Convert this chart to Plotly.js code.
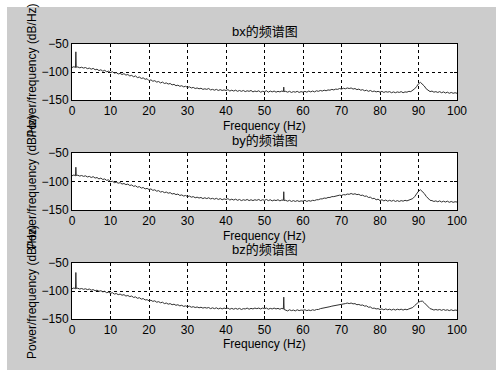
<!DOCTYPE html>
<html>
<head>
<meta charset="utf-8">
<script src="https://cdn.plot.ly/plotly-3.0.1.min.js"></script>
<style>html,body{margin:0;padding:0;background:#fff;}#chart{width:496px;height:370px;}</style>
</head>
<body>
<div id="chart"></div>
<script>
// Frequency bins (Hz)
const freq = [0,0.5,0.9,1,1.1,
  1.5,2,2.5,3,3.5,4,4.5,
  5,5.5,6,6.5,7,7.5,8,8.5,9,9.5,
  10,10.5,11,11.5,12,12.5,13,13.5,14,14.5,
  15,15.5,16,16.5,17,17.5,18,18.5,19,19.5,
  20,20.5,21,21.5,22,22.5,23,23.5,24,24.5,
  25,25.5,26,26.5,27,27.5,28,28.5,29,29.5,
  30,30.5,31,31.5,32,32.5,33,33.5,34,34.5,
  35,35.5,36,36.5,37,37.5,38,38.5,39,39.5,
  40,40.5,41,41.5,42,42.5,43,43.5,44,44.5,
  45,45.5,46,46.5,47,47.5,48,48.5,49,49.5,
  50,50.5,51,51.5,52,52.5,53,53.5,54,54.5,
  54.9,55,55.1,
  55.5,56,56.5,57,57.5,58,58.5,59,59.5,
  60,60.5,61,61.5,62,62.5,63,63.5,64,64.5,
  65,65.5,66,66.5,67,67.5,68,68.5,69,69.5,
  70,70.5,71,71.5,72,72.5,73,73.5,74,74.5,
  75,75.5,76,76.5,77,77.5,78,78.5,79,79.5,
  80,80.5,81,81.5,82,82.5,83,83.5,84,84.5,
  85,85.5,86,86.5,87,87.5,88,88.5,89,89.5,
  90,90.5,91,91.5,92,92.5,93,93.5,94,94.5,
  95,95.5,96,96.5,97,97.5,98,98.5,99,99.5,
  100];

// Power spectral density (dB/Hz)
const bx = [-92,-90.5,-92,-64,-91.5,
  -91,-92.5,-91.5,-93,-92,-94,-93,
  -95,-93.5,-96,-95,-97.5,-96,-98.5,-97,-99.5,-98.5,
  -101,-99.5,-102,-101,-103.5,-102.5,-104.5,-103,-105.5,-104.5,
  -107,-106,-108.5,-107,-110,-109,-111.5,-110.5,-113,-112,
  -115.5,-114,-116.5,-115.5,-118,-117,-119.5,-118,-120.5,-119.5,
  -121.5,-120.5,-123,-122,-124.5,-123.5,-125.5,-124.5,-126.5,-125.5,
  -127.5,-126.5,-128.5,-127.5,-129.5,-128.5,-130,-129,-131,-130,
  -131,-129.5,-132,-131,-132.5,-131,-133,-131.5,-133,-132,
  -133,-131.5,-134,-132.5,-134,-132.5,-134.5,-133,-134.5,-133,
  -135,-133.5,-134.5,-133,-135.5,-134,-135,-133.5,-136,-134.5,
  -135,-133.5,-136,-134,-135.5,-134,-136,-134.5,-135.5,-134,
  -135,-127,-135,
  -134.5,-136,-134.5,-136.5,-135,-136,-134.5,-136.5,-135,
  -136,-134.5,-136,-134,-135.5,-134,-135.5,-133.5,-134.5,-133,
  -134,-132.5,-133.5,-132,-132.5,-131,-132,-130.5,-131,-129.5,
  -130.5,-129,-130,-128.5,-129.5,-128.5,-130.5,-129.5,-131.5,-130.5,
  -132.5,-131.5,-133.5,-132.5,-134.5,-133,-135,-134,-135.5,-134.5,
  -136,-134.5,-136.5,-135,-136,-135,-137,-135.5,-137,-135.5,
  -136.5,-135,-137,-135.5,-136,-134.5,-135,-133,-130,-126,
  -121,-118.5,-121.5,-125,-130,-133,-135,-134,-136,-135,
  -136.5,-135,-137,-135.5,-137.5,-136,-138,-136.5,-138,-137,
  -138];

const by = [-90,-88.5,-90,-75,-89.5,
  -89,-90.5,-89.5,-91,-90,-92,-91,
  -93,-91.5,-94,-93,-95.5,-94,-96.5,-95.5,-98,-97,
  -100.5,-99.5,-102,-101,-103,-102,-104.5,-103.5,-105.5,-104.5,
  -107,-106,-108.5,-107.5,-110,-109,-111.5,-110.5,-113,-112,
  -114,-113,-115.5,-114.5,-117,-116,-118.5,-117.5,-119.5,-118.5,
  -120.5,-119.5,-122,-121,-123,-122,-124.5,-123.5,-125.5,-124.5,
  -126.5,-125.5,-127.5,-126.5,-128.5,-127.5,-129,-128,-130,-128.5,
  -130,-128.5,-130.5,-129.5,-131,-129.5,-131.5,-130,-132,-130.5,
  -131.5,-130,-132.5,-131,-132.5,-131,-133,-131.5,-133.5,-132,
  -133,-131.5,-133.5,-132,-133.5,-132,-133,-131.5,-133.5,-132,
  -133,-131.5,-133.5,-132,-134,-132.5,-133.5,-132,-134,-132.5,
  -133,-118,-133.5,
  -133,-134.5,-133,-135,-133.5,-135,-133.5,-135,-134,
  -134.5,-133,-135,-133.5,-134.5,-133,-133.5,-132,-132,-130.5,
  -130.5,-129,-129.5,-128,-128,-126.5,-126.5,-125.5,-125.5,-124,
  -124.5,-123,-123.5,-122,-122.5,-121,-122.5,-121.5,-123,-122.5,
  -124.5,-124,-126,-125.5,-128,-127.5,-130,-129.5,-132,-131,
  -133.5,-132,-134,-132.5,-134.5,-133,-134.5,-133,-135,-133.5,
  -135,-133.5,-134.5,-133,-134,-132.5,-131.5,-130,-126.5,-121,
  -117,-114.5,-117,-121,-126,-130,-133,-133.5,-135,-134,
  -135.5,-134,-136,-134.5,-136,-134.5,-136.5,-135,-136.5,-135.5,
  -136];

const bz = [-96,-94.5,-96,-67,-95.5,
  -95,-96.5,-95.5,-97,-96,-97.5,-96.5,
  -98.5,-97.5,-99.5,-98.5,-100.5,-99.5,-101.5,-100.5,-103,-102,
  -104,-103,-105.5,-104.5,-106.5,-105.5,-107.5,-106.5,-109,-108,
  -110,-109,-111.5,-110.5,-113,-112,-114.5,-113.5,-116,-115.5,
  -117.5,-116.5,-118.5,-117.5,-120,-119,-121,-120,-122.5,-121.5,
  -123.5,-122.5,-124.5,-123.5,-125.5,-124.5,-126.5,-125.5,-127.5,-126.5,
  -128,-127,-129,-128,-129.5,-128.5,-130,-129,-130.5,-129.5,
  -130.5,-129.5,-131.5,-130,-131.5,-130,-132,-130.5,-132,-130.5,
  -131.5,-130.5,-132.5,-131,-132.5,-131,-132.5,-131,-133,-131.5,
  -132,-130.5,-132.5,-131,-132,-130.5,-131.5,-130.5,-132,-130.5,
  -131.5,-130.5,-132.5,-131,-132,-130.5,-132,-131,-132.5,-131,
  -132,-111,-133,
  -134,-135.5,-133.5,-135,-134,-135.5,-133.5,-135,-134,
  -134.5,-133.5,-135,-134,-135,-133.5,-134.5,-133,-133,-131.5,
  -131,-130,-129.5,-128.5,-128,-127,-126.5,-125.5,-125.5,-124.5,
  -124,-123,-122.5,-121.5,-122.5,-121.5,-123,-122.5,-124.5,-124,
  -125.5,-125,-127,-126.5,-129,-128.5,-131,-130.5,-132,-131.5,
  -133,-132,-133.5,-132,-133.5,-132.5,-134,-132.5,-134,-132.5,
  -133.5,-132.5,-134,-132.5,-133.5,-132,-131,-129.5,-126,-122,
  -120,-118.5,-118,-121,-125,-129,-131.5,-132.5,-134,-133,
  -134,-133,-134.5,-133,-134.5,-133.5,-135,-133.5,-135,-134,
  -134.5];

const seriesNames = ['bx', 'by', 'bz'];
const titles = ['bx的频谱图', 'by的频谱图', 'bz的频谱图'];
const xTickVals = [0,10,20,30,40,50,60,70,80,90,100];
const yTickVals = [-150,-100,-50];
const xLabel = 'Frequency (Hz)';
const yLabel = 'Power/frequency (dB/Hz)';

const FONT = 'Arial, "Liberation Sans", "Noto Sans CJK SC", sans-serif';
const series = [bx, by, bz];
const domains = [[0.7297, 0.8811], [0.4324, 0.5865], [0.1378, 0.2892]];
const titleY = [0.9149, 0.6216, 0.3257];
const xTitleY = [0.6595, 0.3622, 0.0716];
const yTitleY = [0.8108, 0.5095, 0.2122];

const traces = series.map((s, i) => ({
  x: freq, y: s, type: 'scatter', mode: 'lines', name: seriesNames[i],
  xaxis: i === 0 ? 'x' : 'x' + (i + 1), yaxis: i === 0 ? 'y' : 'y' + (i + 1),
  line: {color: '#303030', width: 1}, hoverinfo: 'skip', showlegend: false
}));

const layout = {
  width: 496, height: 370,
  margin: {l: 72, r: 39, t: 0, b: 0},
  paper_bgcolor: '#cccccc', plot_bgcolor: '#ffffff',
  font: {family: FONT, size: 12, color: '#000'},
  showlegend: false,
  annotations: [], shapes: [
    {type: 'rect', xref: 'paper', yref: 'paper', x0: -0.2, x1: 1.2, y0: (370 - 7) / 370, y1: 1.01, fillcolor: '#ffffff', line: {width: 0}, layer: 'above'},
    {type: 'rect', xref: 'paper', yref: 'paper', x0: -72 / 385, x1: -65 / 385, y0: -0.01, y1: 1.01, fillcolor: '#ffffff', line: {width: 0}, layer: 'above'}
  ]
};

for (let i = 0; i < 3; i++) {
  const xa = i === 0 ? 'xaxis' : 'xaxis' + (i + 1);
  const ya = i === 0 ? 'yaxis' : 'yaxis' + (i + 1);
  layout[xa] = {
    domain: [0, 1], anchor: i === 0 ? 'y' : 'y' + (i + 1), range: [0, 100],
    tickvals: xTickVals, ticks: 'inside', ticklen: 3, tickcolor: '#000',
    showline: true, linecolor: '#000', linewidth: 1, mirror: 'ticks',
    showgrid: true, gridcolor: '#000', gridwidth: 1, griddash: 'dot',
    zeroline: false, tickfont: {size: 12, family: FONT, color: '#000'}, fixedrange: true
  };
  layout[ya] = {
    domain: domains[i], anchor: i === 0 ? 'x' : 'x' + (i + 1), range: [-150, -50],
    tickvals: yTickVals, ticks: 'inside', ticklen: 3, tickcolor: '#000',
    showline: true, linecolor: '#000', linewidth: 1, mirror: 'ticks',
    showgrid: true, gridcolor: '#000', gridwidth: 1, griddash: 'dot',
    zeroline: false, tickfont: {size: 12, family: FONT, color: '#000'}, fixedrange: true
  };
  layout.annotations.push({
    text: titles[i], xref: 'paper', yref: 'paper', x: 0.5, y: titleY[i],
    xanchor: 'center', yanchor: 'middle', showarrow: false, font: {size: 13, family: FONT, color: '#000'}
  });
  layout.annotations.push({
    text: xLabel, xref: 'paper', yref: 'paper', x: 0.5, y: xTitleY[i],
    xanchor: 'center', yanchor: 'middle', showarrow: false, font: {size: 12, family: FONT, color: '#000'}
  });
  layout.annotations.push({
    text: yLabel, xref: 'paper', yref: 'paper', x: -0.1026, y: yTitleY[i],
    xanchor: 'center', yanchor: 'middle', textangle: -90, showarrow: false, font: {size: 12, family: FONT, color: '#000'}
  });
}

Plotly.newPlot('chart', traces, layout, {staticPlot: true, displayModeBar: false});
</script>
</body>
</html>
